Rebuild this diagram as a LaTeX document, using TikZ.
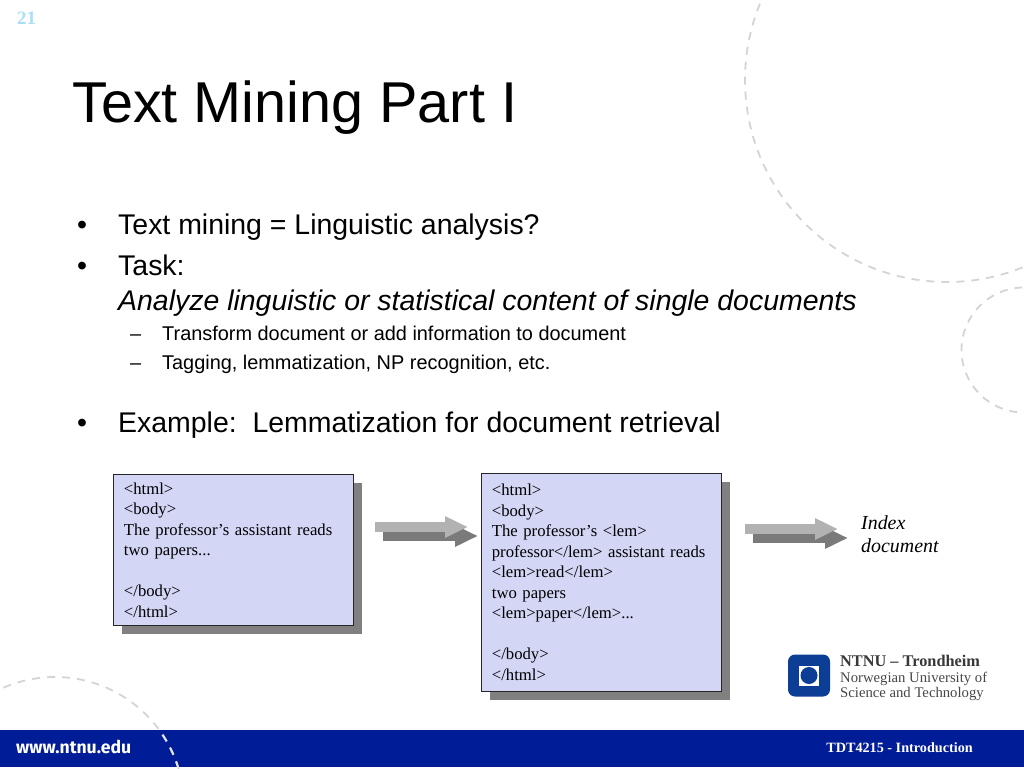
\documentclass[tikz,border=0pt]{standalone}
\usepackage{fontspec}
\setmainfont{Liberation Serif}
\setsansfont{Liberation Sans}
\newfontfamily\barfont{Fira Sans}
\usetikzlibrary{positioning, arrows.meta, shadows}
\definecolor{barblue}{RGB}{0,28,150}
\definecolor{logoblue}{RGB}{12,62,150}
\definecolor{boxfill}{RGB}{211,214,245}
\definecolor{ringgray}{RGB}{212,212,212}
\tikzset{
  ring/.style={draw=ringgray, line width=1.8pt, dash pattern=on 8pt off 7pt},
  bullettext/.style={anchor=base west, inner sep=0pt, font=\sffamily\fontsize{28.45}{32}\selectfont},
  subtext/.style={anchor=base west, inner sep=0pt, font=\sffamily\fontsize{19.9}{24}\selectfont},
  docbox/.style={draw=black!85, line width=0.9pt, fill=boxfill, anchor=north west, align=left,
    inner xsep=10.5pt, inner ysep=0pt, text width=219pt,
    font=\fontsize{16.7}{20.5}\selectfont,
    drop shadow={shadow xshift=9pt, shadow yshift=-8.5pt, opacity=1, fill=black!50}},
  lightarrow/.style={line width=10pt, color=black!30, -{Triangle[length=23pt,width=20pt]}},
  darkarrow/.style={line width=10pt, color=black!52, -{Triangle[length=23pt,width=20pt]}},
  logotext/.style={anchor=base west, inner sep=0pt, text=black!72, font=\fontsize{14.7}{16}\selectfont}
}
\begin{document}
\begin{tikzpicture}[x=1pt,y=-1pt]
   \clip (0,0) rectangle (1024,768);
   \fill[white] (0,0) rectangle (1024,768);
   % rings behind the slide
   \draw[ring] (947,80) circle [radius=202];
   \draw[ring] (1024,350) circle [radius=62.5];
   \draw[ring] (55,806) circle [radius=129];
   % bottom bar
   \fill[barblue] (0,730) rectangle (1024,767);
   \begin{scope}
     \clip (0,730) rectangle (1024,767);
     \draw[ring, draw=black!10, line width=2.2pt] (55,806) circle [radius=129];
   \end{scope}
   \node[anchor=base west, inner sep=0pt, text=white, font=\barfont\bfseries\fontsize{17.6}{20}\selectfont] (url) at (16,753) {www.ntnu.edu};
   \node[anchor=base east, inner sep=0pt, text=white, font=\bfseries\fontsize{14.2}{16}\selectfont] (course) at (973,752) {TDT4215 - Introduction};
   % heading
   \node[anchor=base, inner sep=0pt, text=black!5!cyan!35!white, font=\bfseries\fontsize{19}{18}\selectfont] (pagenum) at (26.5,25) {21};
   \node[anchor=base west, inner sep=0pt, font=\sffamily\fontsize{57.6}{64}\selectfont] (title) at (72,122) {Text Mining Part I};
   % bullets
   \node[bullettext] (b_1) at (77,234) {•};
   \node[bullettext] (t_1) at (118,234) {Text mining = Linguistic analysis?};
   \node[bullettext] (b_2) at (77,275) {•};
   \node[bullettext] (t_2) at (118,275) {Task:};
   \node[bullettext] (t_3) at (118,310) {\itshape Analyze linguistic or statistical content of single documents};
   \node[subtext] (d_1) at (130,340) {–};
   \node[subtext] (s_1) at (162,340) {Transform document or add information to document};
   \node[subtext] (d_2) at (130,369) {–};
   \node[subtext] (s_2) at (162,369) {Tagging, lemmatization, NP recognition, etc.};
   \node[bullettext] (b_3) at (77,432) {•};
   \node[bullettext] (t_4) at (118,432) {Example:\ \ Lemmatization for document retrieval};
   % documents
   \node[docbox, minimum height=151pt] (doc_1) at (113,474)
     {<html>\\<body>\\The professor’s assistant reads\\two papers...\\[20.5pt]</body>\\</html>};
   \node[docbox, minimum height=218pt, yshift=1pt] (doc_2) [right=127pt of doc_1.north east, anchor=north west]
     {<html>\\<body>\\The professor’s <lem>\\professor</lem> assistant reads\\<lem>read</lem>\\two papers\\<lem>paper</lem>...\\[20.5pt]</body>\\</html>};
   \node[anchor=north west, inner sep=0pt, align=left, font=\itshape\fontsize{19.9}{23.5}\selectfont] (index) at (861,515) {Index\\document};
   % block arrows
   \coordinate (a_1) at (375,527);
   \coordinate (a_2) at (468,527);
   \coordinate (a_3) at (745,529);
   \coordinate (a_4) at (838,529);
   \draw[darkarrow] ([xshift=8pt,yshift=-9pt]a_1) -- ([xshift=10pt,yshift=-9pt]a_2);
   \draw[lightarrow] (a_1) -- (a_2);
   \draw[darkarrow] ([xshift=8pt,yshift=-9pt]a_3) -- ([xshift=10pt,yshift=-9pt]a_4);
   \draw[lightarrow] (a_3) -- (a_4);
   % logo
   \node[fill=logoblue, rounded corners=7pt, minimum size=42pt, inner sep=0pt] (logo) at (809,675.5) {};
   \node[fill=white, minimum size=20pt, inner sep=0pt] (logo_sq) at (logo) {};
   \node[fill=logoblue, circle, minimum size=17pt, inner sep=0pt] (logo_dot) at (logo) {};
   \node[logotext, font=\bfseries\fontsize{16.3}{16}\selectfont, text=black!78] (l_1) at (840,666) {NTNU – Trondheim};
   \node[logotext] (l_2) at (840,682) {Norwegian University of};
   \node[logotext] (l_3) at (840,697) {Science and Technology};
\end{tikzpicture}
\end{document}
